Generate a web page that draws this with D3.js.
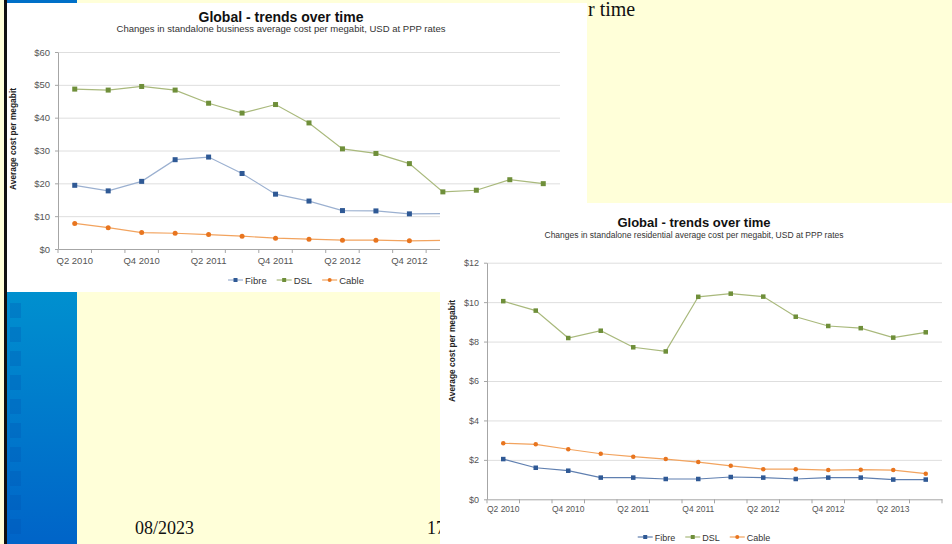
<!DOCTYPE html>
<html>
<head>
<meta charset="utf-8">
<title>Global - trends over time</title>
<script src="https://d3js.org/d3.v7.min.js"></script>
<style>
  body { margin: 0; padding: 0; background: #ffffd9; }
  svg { display: block; }
  text { font-family: "Liberation Sans", Arial, sans-serif; }
  .serif { font-family: "Liberation Serif", "Times New Roman", serif; fill: #111; }
  .tick text { fill: #555; }
  .axis path, .axis line { stroke: #a6a6a6; }
  .grid line { stroke: #dedede; }
  .grid path { display: none; }
</style>
</head>
<body>
<svg width="952" height="544"></svg>
<script>
// ---- data: business chart (left / top) ----
var bizQuarters = ["Q2 2010","Q3 2010","Q4 2010","Q1 2011","Q2 2011","Q3 2011","Q4 2011",
                   "Q1 2012","Q2 2012","Q3 2012","Q4 2012","Q1 2013","Q2 2013","Q3 2013","Q4 2013"];
var bizFibre = [19.4, 17.7, 20.6, 27.2, 28.0, 23.0, 16.7, 14.6, 11.7, 11.6, 10.7, 10.8];
var bizDSL   = [48.7, 48.4, 49.5, 48.4, 44.4, 41.4, 44.0, 38.4, 30.5, 29.1, 26.0, 17.4, 17.9, 21.1, 19.9];
var bizCable = [7.8, 6.5, 5.0, 4.8, 4.4, 3.9, 3.3, 3.0, 2.7, 2.7, 2.5, 2.6];
var bizTicks = [0, 10, 20, 30, 40, 50, 60];

// ---- data: residential chart (right / bottom) ----
var resQuarters = ["Q2 2010","Q3 2010","Q4 2010","Q1 2011","Q2 2011","Q3 2011","Q4 2011",
                   "Q1 2012","Q2 2012","Q3 2012","Q4 2012","Q1 2013","Q2 2013","Q3 2013"];
var resFibre = [2.04, 1.60, 1.45, 1.10, 1.10, 1.03, 1.03, 1.13, 1.10, 1.03, 1.10, 1.10, 1.00, 1.00];
var resDSL   = [10.05, 9.57, 8.18, 8.55, 7.71, 7.50, 10.27, 10.43, 10.28, 9.26, 8.79, 8.68, 8.20, 8.47];
var resCable = [2.84, 2.79, 2.54, 2.31, 2.16, 2.04, 1.89, 1.70, 1.53, 1.53, 1.48, 1.50, 1.48, 1.30];
var resTicks = [0, 2, 4, 6, 8, 10, 12];

var svg = d3.select("svg");

// slide background
svg.append("rect").attr("width", 952).attr("height", 544).attr("fill", "#ffffd9");

// blue strip on the left
var defs = svg.append("defs");
var grad = defs.append("linearGradient").attr("id", "strip").attr("x1", 0).attr("y1", 0).attr("x2", 0).attr("y2", 1);
grad.append("stop").attr("offset", "0%").attr("stop-color", "#0090cf");
grad.append("stop").attr("offset", "100%").attr("stop-color", "#0064c8");
svg.append("rect").attr("x", 7).attr("y", 292).attr("width", 70).attr("height", 252).attr("fill", "url(#strip)");
for (var i = 0; i < 10; i++) {
  svg.append("rect").attr("x", 10).attr("y", 303 + i * 24).attr("width", 11).attr("height", 15)
    .attr("fill", "#0050b0").attr("opacity", 0.25);
}
svg.append("rect").attr("x", 7).attr("y", 0).attr("width", 70).attr("height", 3).attr("fill", "#0070c8");

// slide text partly behind the charts (only the visible tail of the title is drawn)
svg.append("text").attr("class", "serif").attr("x", 588).attr("y", 16)
  .style("font-size", "20px").text("r time");
svg.append("text").attr("class", "serif").attr("x", 135).attr("y", 534)
  .style("font-size", "18px").text("08/2023");
svg.append("text").attr("class", "serif").attr("x", 427).attr("y", 534)
  .style("font-size", "18px").text("17");

function drawChart(cfg) {
  var g = svg.append("g");
  g.append("rect").attr("x", cfg.panel[0]).attr("y", cfg.panel[1])
    .attr("width", cfg.panel[2]).attr("height", cfg.panel[3]).attr("fill", "#fff");

  var x = d3.scaleBand().domain(cfg.quarters).range([cfg.left, cfg.right]);
  var y = d3.scaleLinear().domain([0, d3.max(cfg.ticks)]).range([cfg.bottom, cfg.top]);
  var cx = function(i) { return x(cfg.quarters[i]) + x.bandwidth() / 2; };

  // title
  g.append("text").attr("x", cfg.titleX).attr("y", cfg.titleY).attr("text-anchor", "middle")
    .style("font-size", cfg.titleSize).style("font-weight", "bold").attr("fill", "#111").text(cfg.title);
  g.append("text").attr("x", cfg.titleX).attr("y", cfg.subY).attr("text-anchor", "middle")
    .attr("textLength", cfg.subLen).attr("lengthAdjust", "spacingAndGlyphs")
    .style("font-size", cfg.subSize).attr("fill", "#333").text(cfg.subtitle);

  // grid
  g.append("g").attr("class", "grid").attr("transform", "translate(" + cfg.left + ",0)")
    .call(d3.axisLeft(y).tickValues(cfg.ticks.slice(1)).tickSize(-(cfg.right - cfg.left)).tickFormat(""));

  // y axis
  var ya = g.append("g").attr("class", "axis").attr("transform", "translate(" + cfg.left + ",0)")
    .call(d3.axisLeft(y).tickValues(cfg.ticks).tickSize(3).tickSizeOuter(0).tickPadding(5)
      .tickFormat(function(d) { return "$" + d; }));
  ya.selectAll("text").style("font-size", cfg.ySize);

  // x axis: labels every other quarter (only where not covered), ticks at band edges
  var labelled = cfg.quarters.filter(function(d, i) {
    return i % 2 === 0 && x(d) + x.bandwidth() / 2 < cfg.labelMax;
  });
  var xa = g.append("g").attr("class", "axis").attr("transform", "translate(0," + cfg.bottom + ")")
    .call(d3.axisBottom(x).tickValues(labelled).tickSize(0).tickSizeOuter(0).tickPadding(cfg.xPad));
  xa.selectAll("text").style("font-size", cfg.xSize);
  xa.selectAll(".edge").data(cfg.quarters.map(function(q) { return x(q); }).concat([cfg.right]))
    .enter().append("line").attr("class", "edge")
    .attr("x1", function(d) { return d; }).attr("x2", function(d) { return d; })
    .attr("y1", 0).attr("y2", 4).attr("stroke", "#a6a6a6");

  // y title
  g.append("text").attr("transform", "translate(" + cfg.yTitleX + "," + cfg.yTitleY + ") rotate(-90)")
    .attr("text-anchor", "middle").attr("textLength", 102).attr("lengthAdjust", "spacingAndGlyphs")
    .style("font-size", "9.5px").style("font-weight", "bold").attr("fill", "#222")
    .text("Average cost per megabit");

  // series
  var series = [
    { name: "Fibre", values: cfg.fibre, line: cfg.fibreLine, mark: "#2f5995", shape: "square" },
    { name: "DSL",   values: cfg.dsl,   line: "#a9b97c",     mark: "#6f8f3a", shape: "square" },
    { name: "Cable", values: cfg.cable, line: "#f2a35e",     mark: "#e8751f", shape: "circle" }
  ];
  var line = d3.line().x(function(d, i) { return cx(i); }).y(function(d) { return y(d); });
  series.forEach(function(s) {
    g.append("path").datum(s.values).attr("d", line).attr("fill", "none")
      .attr("stroke", s.line).attr("stroke-width", 1.2);
    var pts = g.selectAll(null).data(s.values).enter();
    if (s.shape === "square") {
      pts.append("rect").attr("x", function(d, i) { return cx(i) - cfg.ms / 2; })
        .attr("y", function(d) { return y(d) - cfg.ms / 2; })
        .attr("width", cfg.ms).attr("height", cfg.ms).attr("fill", s.mark);
    } else {
      pts.append("circle").attr("cx", function(d, i) { return cx(i); }).attr("cy", function(d) { return y(d); })
        .attr("r", cfg.ms / 2).attr("fill", s.mark);
    }
  });

  // legend
  var lg = g.append("g");
  var cur = 0;
  series.forEach(function(s) {
    lg.append("line").attr("x1", cur).attr("x2", cur + 15).attr("y1", 0).attr("y2", 0)
      .attr("stroke", s.line).attr("stroke-width", 1.2);
    if (s.shape === "square") {
      lg.append("rect").attr("x", cur + 5.5).attr("y", -2).attr("width", 4).attr("height", 4).attr("fill", s.mark);
    } else {
      lg.append("circle").attr("cx", cur + 7.5).attr("cy", 0).attr("r", 2).attr("fill", s.mark);
    }
    var t = lg.append("text").attr("x", cur + 17).attr("y", 3.5).style("font-size", cfg.legSize)
      .attr("fill", "#333").text(s.name);
    cur += 17 + t.node().getComputedTextLength() + 10;
  });
  lg.attr("transform", "translate(" + (cfg.legX - (cur - 10) / 2) + "," + cfg.legY + ")");
}

drawChart({
  panel: [7, 3, 580, 289],
  quarters: bizQuarters, fibre: bizFibre, dsl: bizDSL, cable: bizCable, ticks: bizTicks,
  left: 58, right: 560, top: 52, bottom: 249, labelMax: 425,
  title: "Global - trends over time", titleX: 281, titleY: 22, titleSize: "14px",
  subtitle: "Changes in standalone business average cost per megabit, USD at PPP rates",
  subY: 31.5, subLen: 329, subSize: "9px",
  ySize: "9.5px", xSize: "9.5px", xPad: 8,
  yTitleX: 16, yTitleY: 139,
  fibreLine: "#9bb0d0", ms: 5,
  legX: 296, legY: 280, legSize: "9.5px"
});

drawChart({
  panel: [440, 203, 512, 341],
  quarters: resQuarters, fibre: resFibre, dsl: resDSL, cable: resCable, ticks: resTicks,
  left: 487, right: 942, top: 262.7, bottom: 499.3, labelMax: 952,
  title: "Global - trends over time", titleX: 694, titleY: 227, titleSize: "13px",
  subtitle: "Changes in standalone residential average cost per megabit, USD at PPP rates",
  subY: 238, subLen: 299, subSize: "8.5px",
  ySize: "9px", xSize: "8.5px", xPad: 7,
  yTitleX: 455, yTitleY: 351,
  fibreLine: "#5f7fb0", ms: 4.5,
  legX: 704, legY: 537, legSize: "9px"
});

// black rule at the far left
svg.append("rect").attr("x", 4).attr("y", 0).attr("width", 3).attr("height", 544).attr("fill", "#111");
</script>
</body>
</html>
